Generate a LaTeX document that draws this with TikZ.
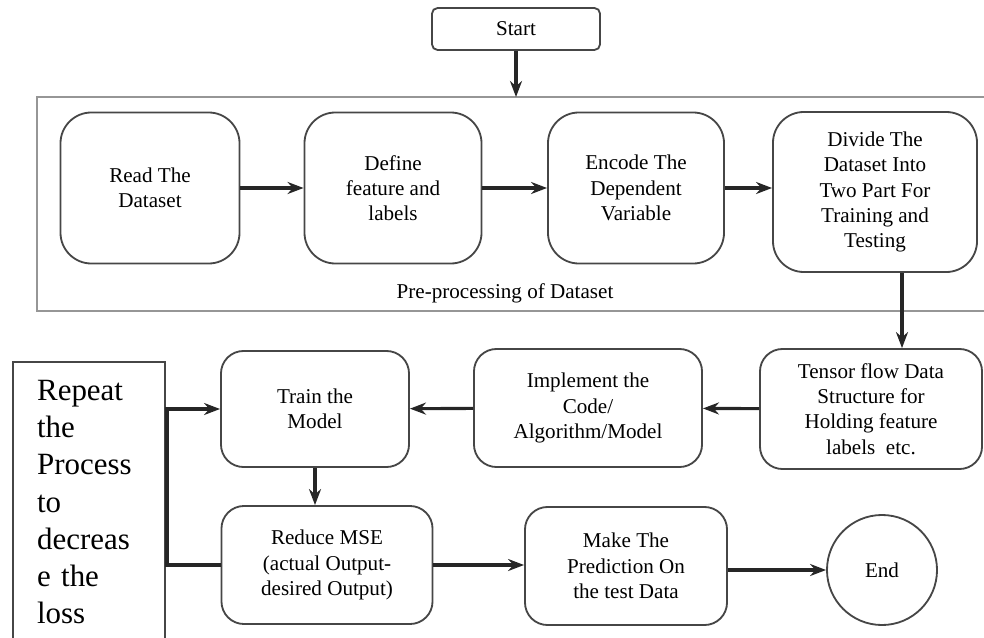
\documentclass[tikz,border=0pt]{standalone}
\usepackage{fontspec}
\setmainfont{Liberation Serif}
\usepackage{tikz}
\usetikzlibrary{shapes,arrows.meta,positioning,calc}
\usepackage{xcolor}
\definecolor{boxline}{RGB}{70,70,70}
\definecolor{frameline}{RGB}{150,150,150}
\tikzset{
    stepbox/.style={draw=boxline, line width=1.3pt, rounded corners=16pt, align=center,
        inner sep=2pt, font=\fontsize{15}{18}\selectfont},
    flow/.style={-{Stealth[length=4mm,width=3mm]}, line width=2.2pt, black!85}
}

\begin{document}
\begin{tikzpicture}[x=0.025cm, y=-0.025cm]
    \useasboundingbox (0,0) rectangle (984,637);

    % --- Start ---
    \node[stepbox, rounded corners=4pt, minimum width=4.2cm, minimum height=1.05cm] (start) at (516,29) {Start};

    % --- Pre-processing frame ---
    \draw[frameline, line width=1.6pt] (990,97) -- (37,97) -- (37,311) -- (990,311);
    \coordinate (frametop) at (516,97);
    \node[font=\fontsize{15}{18}\selectfont] (prelabel) at (505,293) {Pre-processing of Dataset};

    % Row 1
    \node[stepbox, rounded corners=22pt, minimum width=4.475cm, minimum height=3.775cm] (read) at (150,188) {Read The\\Dataset};
    \node[stepbox, rounded corners=22pt, minimum width=4.425cm, minimum height=3.775cm] (define) at (393,188) {Define\\feature and\\labels};
    \node[stepbox, rounded corners=22pt, minimum width=4.4cm, minimum height=3.775cm] (encode) at (636,188) {Encode The\\Dependent\\Variable};
    \node[stepbox, rounded corners=22pt, minimum width=5.1cm, minimum height=4.0cm] (divide) at (875,192) {Divide The\\Dataset Into\\Two Part For\\Training and\\Testing};

    % Row 2
    \node[stepbox, minimum width=5.55cm, minimum height=3.0cm] (tensor) at (871,409) {Tensor flow Data\\Structure for\\Holding feature\\labels\ \ etc.};
    \node[stepbox, minimum width=5.7cm, minimum height=2.95cm] (implement) at (588,408) {Implement the\\Code/\\Algorithm/Model};
    \node[stepbox, minimum width=4.7cm, minimum height=2.9cm] (train) at (315,409) {Train the\\Model};

    % Row 3
    \node[stepbox, minimum width=5.275cm, minimum height=2.95cm] (reduce) at (327,565) {Reduce MSE\\(actual Output-\\desired Output)};
    \node[stepbox, minimum width=5.05cm, minimum height=2.95cm] (predict) at (626,566) {Make The\\Prediction On\\the test Data};
    \node[draw=boxline, line width=1.3pt, circle, minimum size=2.75cm, font=\fontsize{15}{18}\selectfont] (end) at (882,570) {End};

    % --- Repeat note ---
    \node[draw=boxline, line width=1.6pt, minimum height=7.0cm, anchor=north west,
        align=left, text width=2.6cm, inner xsep=0.6cm, inner ysep=0pt,
        font=\fontsize{22}{26.5}\selectfont] (repeat) at (12,361)
        {Repeat\\the\\Process\\to\\decreas\\e the\\loss};

    % Arrows
    \draw[flow] (start) -- (frametop);
    \draw[flow] (read) -- (define);
    \draw[flow] (define) -- (encode);
    \draw[flow] (encode.east) -- (divide.west |- encode.east);
    \draw[flow] (divide.south -| 902,0) -- (tensor.north -| 902,0);
    \draw[flow] (tensor) -- (implement);
    \draw[flow] (implement) -- (train);
    \draw[flow] (train) -- (reduce.north -| train);
    \draw[flow] (reduce) -- (predict.west |- reduce);
    \draw[flow] (predict.east |- end) -- (end);
    % feedback loop
    \draw[flow, rounded corners=0pt] (reduce.west) -- (167,565) |- (train.west);
\end{tikzpicture}
\end{document}
